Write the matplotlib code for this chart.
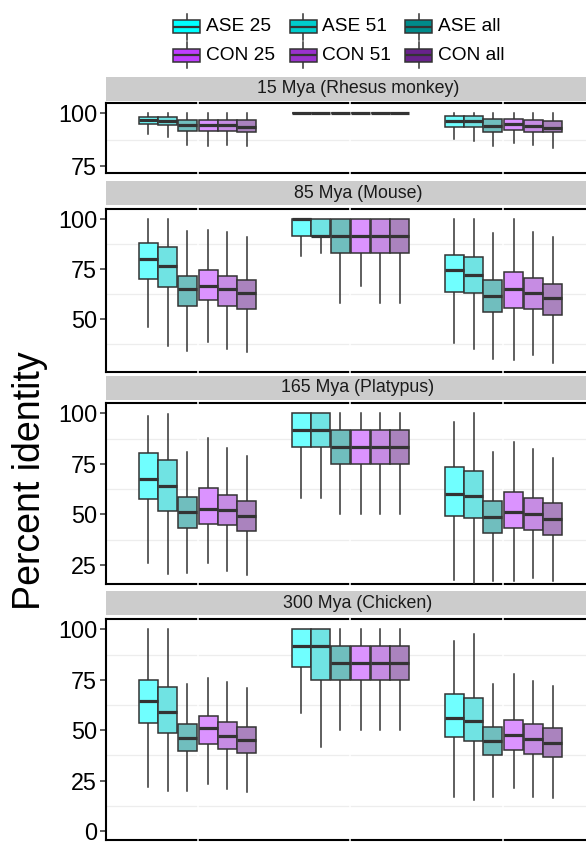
import matplotlib
matplotlib.use("Agg")
import matplotlib.pyplot as plt
import matplotlib.transforms as mtransforms
from matplotlib.patches import Rectangle

plt.rcParams["font.family"] = ["Liberation Sans", "DejaVu Sans"]

# ---- data -------------------------------------------------------------
series = ["ASE 25", "ASE 51", "ASE all", "CON 25", "CON 51", "CON all"]
colors = ["#00FFFF", "#00CDCD", "#008B8B", "#BF3EFF", "#9A32CD", "#68228B"]
panel_titles = ["15 Mya (Rhesus monkey)", "85 Mya (Mouse)",
                "165 Mya (Platypus)", "300 Mya (Chicken)"]
panel_ticks = [[75, 100], [50, 75, 100], [25, 50, 75, 100], [0, 25, 50, 75, 100]]
panel_minor = [[87.5], [37.5, 62.5, 87.5], [37.5, 62.5, 87.5], [12.5, 37.5, 62.5, 87.5]]
panel_ylim = [(71.4, 104.8), (23.8, 105.0), (15.3, 105.0), (-4.5, 105.0)]

# five-number summaries per panel: one row of six series for each of three groups
rhesus_lo = [[90, 88.8, 84.9, 84.4, 85, 84.5], [100] * 6, [87.6, 86.9, 84.4, 86, 84.9, 83.6]]
rhesus_q1 = [[95, 94.5, 91.7, 91.5, 91.5, 91.2], [100] * 6, [93.6, 93.4, 91.2, 92.0, 91.2, 90.9]]
rhesus_med = [[97, 96.5, 94.4, 94.4, 94.5, 93.5], [100] * 6, [96.3, 96.3, 94.1, 94.7, 94.1, 93.1]]
rhesus_q3 = [[98.5, 98.5, 97, 97, 97, 96.7], [100] * 6, [98.7, 98.7, 97.1, 97.1, 96.7, 96.3]]
rhesus_hi = [[100] * 6, [100] * 6, [100] * 6]

mouse_lo = [[46.3, 36.8, 34.3, 38.8, 35, 33.8], [81.7, 83.3, 58.3, 66.7, 58.3, 58.3],
            [38, 35.2, 30, 29.7, 32.2, 28.3]]
mouse_q1 = [[70.3, 66.3, 56.7, 59.7, 56.8, 55.3], [91.7, 91.7, 83.3, 83.3, 83.3, 83.3],
            [63.8, 63, 53.5, 55.8, 55.2, 52]]
mouse_med = [[80, 76.7, 65, 66.7, 65.2, 63], [100, 91.7, 91.7, 91.7, 91.7, 91.7],
             [74.7, 72.2, 61.7, 65.2, 63, 60.8]]
mouse_q3 = [[88, 86.3, 71.8, 74.5, 71.5, 69.8], [100] * 6,
            [82.2, 81.3, 69.7, 73.8, 70.5, 67.7]]
mouse_hi = [[100, 100, 94.2, 94.7, 93.7, 91], [100] * 6,
            [100, 100, 93.3, 100, 93.5, 91.3]]

platypus_lo = [[26, 20.4, 21.1, 25.7, 21.8, 20], [58.3, 58.3, 50, 50, 50, 50],
               [17.5, 15.8, 17.1, 17.1, 18.3, 17.1]]
platypus_q1 = [[57.6, 51.6, 43.4, 45.4, 44.5, 41.7], [83.3, 83.3, 75, 75, 75, 75],
               [49.3, 48.3, 40.7, 43.4, 42.1, 39.9]]
platypus_med = [[67.5, 64.2, 51, 52.5, 52.1, 49.3], [91.7, 91.7, 83.3, 83.3, 83.3, 83.3],
                [60, 58.9, 48.8, 51, 50, 47.5]]
platypus_q3 = [[80.2, 76.9, 58.4, 62.9, 59.6, 56.6], [100, 100, 91.7, 91.7, 91.7, 91.7],
               [73.6, 71.4, 56.7, 61, 58.2, 55.4]]
platypus_hi = [[98.7, 99.7, 81, 87.6, 83, 78.9], [100] * 6,
               [95.5, 100, 80.7, 86, 82.3, 78]]

chicken_lo = [[22, 20, 20, 23.2, 20.8, 19.2], [58.3, 41.7, 50, 50, 50, 50],
              [17, 15.4, 17, 21.5, 16.7, 16.2]]
chicken_q1 = [[53.4, 48.7, 39.8, 43.1, 40.5, 38.5], [81.2, 75, 75, 75, 75, 75],
              [46.8, 44.8, 37.7, 40.2, 38.2, 36.8]]
chicken_med = [[64.6, 59.2, 46.3, 50.9, 47.1, 45], [91.7, 91.7, 83.3, 83.3, 83.3, 83.3],
               [55.9, 54.5, 44.8, 47.6, 45.6, 43.5]]
chicken_q3 = [[74.9, 71.5, 52.9, 57, 53.9, 51.4], [100, 100, 91.7, 91.7, 91.7, 91.7],
              [67.8, 65.8, 51.7, 55, 52.9, 50.9]]
chicken_hi = [[100, 100, 72.7, 76, 73.7, 70.7], [100] * 6,
              [94.4, 97.5, 72.7, 77.7, 74.5, 71.9]]

panel_stats = [
    (rhesus_lo, rhesus_q1, rhesus_med, rhesus_q3, rhesus_hi),
    (mouse_lo, mouse_q1, mouse_med, mouse_q3, mouse_hi),
    (platypus_lo, platypus_q1, platypus_med, platypus_q3, platypus_hi),
    (chicken_lo, chicken_q1, chicken_med, chicken_q3, chicken_hi),
]

# ---- layout (pixel geometry) -------------------------------------------
W, H = 586, 842
fig = plt.figure(figsize=(W / 100, H / 100), dpi=100)

x_left, x_right = 106, 595          # panels run slightly past the right edge
strip_text_x = 358
panel_px = [(103.3, 173.3), (209.3, 371.7), (403.3, 584.3), (619.3, 840.0)]
strip_px = [(77.0, 100.7), (181.0, 205.0), (376.0, 400.0), (591.0, 615.0)]

offsets = [-0.322, -0.195, -0.068, 0.068, 0.195, 0.322]
box_w = 0.125
alpha = 0.56
dark = "#333333"


def fig_rect(top, bottom):
    return [x_left / W, 1 - bottom / H, (x_right - x_left) / W, (bottom - top) / H]


def blend(c, a):
    rgb = matplotlib.colors.to_rgb(c)
    return tuple(1 - a + a * v for v in rgb)


for p in range(4):
    top, bottom = panel_px[p]
    ax = fig.add_axes(fig_rect(top, bottom))
    lo, q1, med, q3, hi = panel_stats[p]
    for g in range(3):
        stats, pos = [], []
        for s in range(6):
            stats.append(dict(whislo=lo[g][s], q1=q1[g][s], med=med[g][s],
                              q3=q3[g][s], whishi=hi[g][s], fliers=[]))
            pos.append(g + 1 + offsets[s])
        bp = ax.bxp(stats, positions=pos, widths=box_w, patch_artist=True,
                    showfliers=False, showcaps=False,
                    boxprops=dict(edgecolor=dark, linewidth=1.1, zorder=3),
                    medianprops=dict(color=dark, linewidth=2.3, solid_capstyle="butt", zorder=4),
                    whiskerprops=dict(color=dark, linewidth=1.1, zorder=2.8))
        for patch, c in zip(bp["boxes"], colors):
            patch.set_facecolor(blend(c, alpha))

    ax.set_xlim(0.4, 3.6)
    ax.set_ylim(*panel_ylim[p])
    ax.set_xticks([])
    ax.set_yticks(panel_ticks[p])
    ax.set_yticklabels([str(t) for t in panel_ticks[p]])
    ax.tick_params(axis="y", length=4.3, width=1.1, color=dark, pad=2,
                   labelsize=16.8, labelcolor="black")
    for yv in panel_minor[p]:
        ax.axhline(yv, color="#EDEDED", linewidth=0.9, zorder=1)
    for side in ("left", "top", "bottom"):
        ax.spines[side].set_color("black")
        ax.spines[side].set_linewidth(1.5)
    ax.spines["right"].set_visible(False)
    # white vertical grid lines at the group positions, drawn across the frame
    trans = mtransforms.blended_transform_factory(ax.transData, ax.transAxes)
    for xv in (1, 2, 3):
        ax.plot([xv, xv], [-0.03, 1.03], color="white", linewidth=1.1,
                transform=trans, clip_on=False, zorder=2.6)

    # facet strip
    st, sb = strip_px[p]
    sax = fig.add_axes(fig_rect(st, sb))
    sax.set_facecolor("#CCCCCC")
    sax.set_xticks([])
    sax.set_yticks([])
    for sp in sax.spines.values():
        sp.set_visible(False)
    fig.text(strip_text_x / W, 1 - (st + sb) / 2 / H, panel_titles[p], ha="center",
             va="center", fontsize=12.8, color="#1A1A1A", zorder=5)

# y axis title
fig.text(30 / W, 1 - 481 / H, "Percent identity", rotation=90, ha="center",
         va="center", fontsize=27, color="black")

# ---- legend -------------------------------------------------------------
lax = fig.add_axes([0, 0, 1, 1], zorder=10)
lax.set_xlim(0, W)
lax.set_ylim(H, 0)
lax.axis("off")
col_x = [173, 289.5, 405]
row_y = [26.5, 55.0]
for i, (name, c) in enumerate(zip(series, colors)):
    r, k = divmod(i, 3)
    x0, yc = col_x[k], row_y[r]
    kw = 27
    lax.plot([x0 + kw / 2, x0 + kw / 2], [yc - 13, yc + 13], color=dark, lw=1.1, zorder=1)
    lax.add_patch(Rectangle((x0, yc - 6.5), kw, 13, facecolor=c, edgecolor=dark,
                            linewidth=1.1, zorder=2))
    lax.plot([x0, x0 + kw], [yc, yc], color=dark, lw=1.6, solid_capstyle="butt", zorder=3)
    lax.text(x0 + kw + 6, yc, name, ha="left", va="center", fontsize=13.8, color="black")

fig.savefig("out.png", dpi=100)
